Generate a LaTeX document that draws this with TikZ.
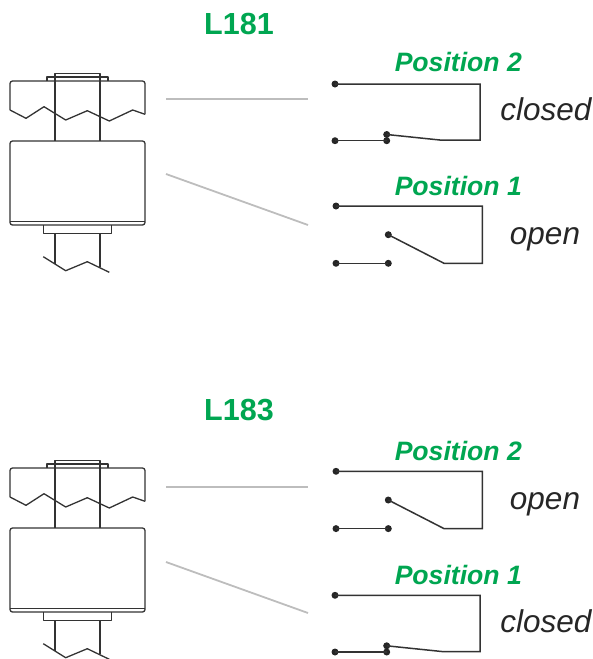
\documentclass[tikz,border=0pt]{standalone}
\usepackage{fontspec}
\setmainfont{Liberation Sans}
\definecolor{titlegreen}{HTML}{00A651}
\definecolor{ink}{HTML}{333333}
\definecolor{leader}{HTML}{BDBDBD}
\tikzset{
  wire/.style={draw=ink,line width=1.5pt,line join=miter},
  part/.style={draw=ink,line width=1.3pt,line join=round},
  dot/.style={circle,fill=black!85,inner sep=0pt,minimum size=7pt},
  leaderline/.style={draw=leader,line width=1.8pt},
  heading/.style={text=titlegreen,anchor=base,font=\fontsize{30.5}{34}\selectfont\bfseries,inner sep=0pt},
  postext/.style={text=titlegreen,anchor=base,font=\fontsize{26.6}{30}\selectfont\bfseries\itshape,inner sep=0pt},
  statetext/.style={text=black!85,anchor=base,font=\fontsize{31.5}{36}\selectfont\itshape,inner sep=0pt},
  instrument/.pic={
    \draw[part] (55,81) -- (55,73.3) -- (100,73.3) -- (100,81);
    \draw[part] (47,81) -- (47,77) -- (108,77) -- (108,81);
    \draw[part,rounded corners=2.5pt] (10,110) -- (10,81) -- (145,81) -- (145,114.3);
    \draw[part] (10,110) -- (26,118.3) -- (44,106.7) -- (65.7,120) -- (87.3,110.7) -- (109.3,121) -- (132.7,110) -- (145,114.3);
    \draw[part] (55,81) -- (55,141) (100,81) -- (100,141);
    \draw[part,rounded corners=2.5pt] (10,141) rectangle (145,225);
    \draw[part] (10,221.3) -- (145,221.3);
    \draw[part] (43.3,225) -- (43.3,233.3) -- (111.7,233.3) -- (111.7,225);
    \draw[part] (55,233.3) -- (55,264) (100,233.3) -- (100,267);
    \draw[part] (43.3,256.7) -- (65.7,270.7) -- (87.3,261.7) -- (109.3,272.3);
  },
  closedswitch/.pic={
    \node[dot] (a) at (335,0) {};
    \node[dot] (b) at (335,56.7) {};
    \node[dot] (c) at (386.7,56.7) {};
    \node[dot] (d) at (386.7,50.5) {};
    \coordinate (e) at (480,0);
    \coordinate (f) at (480,56.2);
    \coordinate (g) at (441.7,56.2);
    \draw[wire] (a.center) -- (e) -- (f) -- (g) -- (d.center);
    \draw[wire] (b.center) -- (c.center);
  },
  openswitch/.pic={
    \node[dot] (a) at (336,0) {};
    \node[dot] (b) at (336,57.3) {};
    \node[dot] (c) at (388.3,57.3) {};
    \node[dot] (d) at (388.3,28.7) {};
    \coordinate (e) at (482.3,0);
    \coordinate (f) at (482.3,57.3);
    \coordinate (g) at (444,57.3);
    \draw[wire] (a.center) -- (e) -- (f) -- (g) -- (d.center);
    \draw[wire] (b.center) -- (c.center);
  },
}
\begin{document}
\begin{tikzpicture}[x=1pt,y=-1pt]
\useasboundingbox (0,0) rectangle (593,659);
% L181
\node[heading] (t1) at (239,34) {L181};
\pic at (0,0) {instrument};
\pic at (0,84) {closedswitch};
\pic at (0,206) {openswitch};
\node[postext] (p1a) at (458.3,71.7) {Position 2};
\node[postext] (p1b) at (458.3,195) {Position 1};
\node[statetext] (s1a) at (545.8,120.7) {closed};
\node[statetext] (s1b) at (545,244) {open};
\coordinate (l1a) at (166,99.3);
\coordinate (r1a) at (308,99.3);
\coordinate (l1b) at (166,174);
\coordinate (r1b) at (308,225);
\draw[leaderline] (l1a) -- (r1a);
\draw[leaderline] (l1b) -- (r1b);
% L183
\node[heading] (t2) at (239,420.5) {L183};
\pic at (0,387) {instrument};
\pic at (0,471.3) {openswitch};
\pic at (0,595.3) {closedswitch};
\node[postext] (p2a) at (458.3,460) {Position 2};
\node[postext] (p2b) at (458.3,584) {Position 1};
\node[statetext] (s2a) at (545,509) {open};
\node[statetext] (s2b) at (545.8,632.7) {closed};
\coordinate (l2a) at (166,487.3);
\coordinate (r2a) at (308,487.3);
\coordinate (l2b) at (166,562);
\coordinate (r2b) at (308,613);
\draw[leaderline] (l2a) -- (r2a);
\draw[leaderline] (l2b) -- (r2b);
\end{tikzpicture}
\end{document}
